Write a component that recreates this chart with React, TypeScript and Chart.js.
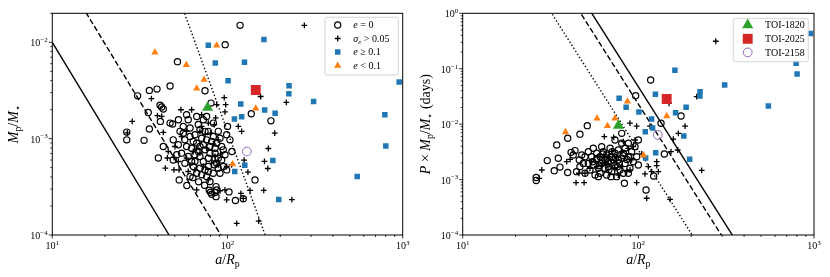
import React, { useEffect, useRef } from 'react';
import { Chart, registerables } from 'chart.js';

Chart.register(...registerables);

type Pt = [number, number];

// ---------- data: eccentric planets (e >= 0.1) ----------
const eccAR = [77.7, 161.5, 85.2, 125, 100.8, 224.5, 224, 310, 955, 119, 163, 187, 120.5, 109.5, 791, 801, 181.5, 125.5, 110, 550, 196];
const eccMass = [9.3e-3, 1.07e-2, 6.1e-3, 6.2e-3, 4.0e-3, 3.54e-3, 2.92e-3, 2.43e-3, 3.87e-3, 2.29e-3, 1.98e-3, 1.83e-3, 1.69e-3, 1.6e-3, 1.77e-3, 8.4e-4, 5.93e-4, 5.3e-4, 4.56e-4, 4.04e-4, 2.33e-4];
const eccPM = [0.0292, 0.0936, 0.0201, 0.0345, 0.0166, 0.0386, 0.0322, 0.0509, 0.43, 0.0124, 0.0161, 0.0201, 8.5e-3, 7.3e-3, 0.125, 0.08, 6.1e-3, 3.06e-3, 2.45e-3, 0.0213, 2.32e-3];

// ---------- data: low eccentricity (e < 0.1) ----------
const lowAR = [38.5, 86.7, 58.2, 73.5, 66.7, 145, 107];
const lowMass = [7.87e-3, 9.3e-3, 5.81e-3, 4.09e-3, 3.32e-3, 2.06e-3, 5.43e-4];
const lowPM = [7.2e-3, 0.0258, 0.0127, 0.0127, 9.27e-3, 0.014, 2.74e-3];

// ---------- data: the three TOIs ----------
const toiNames = ['TOI-1820', 'TOI-2025', 'TOI-2158'];
const toiAR = [77, 145, 129];
const toiMass = [2.1e-3, 3.2e-3, 7.35e-4];
const toiPM = [9.4e-3, 0.0284, 6.4e-3];

// ---------- data: e = 0 (left panel: a/Rp, Mp/M*) ----------
const leftCircles: Pt[] = [
  [118, 1.5e-2], [97, 9.45e-3], [51.8, 6.3e-3], [47.0, 3.52e-3], [35.8, 3.17e-3], [39.6, 3.27e-3], [74.4, 3.14e-3],
  [30.7, 2.78e-3], [80.5, 2.34e-3], [136.7, 1.81e-3], [177, 1.53e-3], [35.3, 1.87e-3], [41.2, 2.22e-3], [42.1, 2.13e-3],
  [43.0, 2.03e-3], [41.4, 1.51e-3], [47.0, 1.45e-3], [48.6, 1.42e-3], [52.5, 1.57e-3], [35.8, 1.26e-3], [26.6, 1.17e-3],
  [26.6, 9.72e-4], [33.4, 9.6e-4], [43.0, 8.29e-4], [51.3, 6.8e-4], [40.3, 6.3e-4], [49.0, 6.0e-4], [53.0, 3.73e-4],
  [58.6, 3.26e-4], [63.4, 3.94e-4], [68.4, 3.56e-4], [74.0, 3.28e-4], [78.7, 2.91e-4], [80.0, 2.78e-4], [84.8, 2.76e-4],
  [86.0, 3.18e-4], [86.0, 2.5e-4], [102, 2.8e-4], [111, 2.28e-4], [123, 2.38e-4], [143.5, 3.73e-4], [106, 7.36e-4],
  [100, 1.34e-3],
  [59.7, 1.57e-3], [53.6, 1.19e-3], [61.1, 1.29e-3], [68.1, 1.4e-3], [65.2, 1.1e-3], [57.1, 9.72e-4], [52.4, 8.63e-4],
  [62.4, 7.96e-4], [71.2, 1.01e-3], [76.0, 9.72e-4], [74.4, 7.65e-4], [81.2, 9.35e-4], [84.9, 7.07e-4], [94.6, 7.65e-4],
  [88.6, 1.19e-3], [98.9, 1.1e-3], [88.6, 6.27e-4], [69.6, 6.53e-4], [54.7, 7.07e-4], [77.7, 6.27e-4], [59.7, 6.53e-4],
  [55.9, 1.34e-3], [63.8, 9.35e-4], [77.7, 1.19e-3], [83.0, 1.45e-3], [65.2, 5.79e-4], [84.9, 6.27e-4], [92.6, 6.02e-4],
  [84.1, 5.35e-4], [77.7, 5.14e-4], [74.4, 4.74e-4], [69.6, 4.94e-4], [61.1, 4.04e-4], [79.4, 3.59e-4], [86.7, 2.94e-4],
  [81.2, 2.65e-4], [57.1, 5.56e-4], [62.4, 5.79e-4], [72.8, 1.57e-3], [76.0, 1.7e-3], [69.6, 1.235e-3], [66.7, 8.98e-4],
  [72.8, 8.63e-4], [79.4, 8.29e-4], [86.7, 8.98e-4], [90.6, 1.01e-3], [92.6, 8.29e-4], [83.0, 1.053e-3], [58.4, 8.29e-4],
  [68.1, 7.36e-4], [72.8, 5.79e-4], [88.6, 4.94e-4], [90.6, 4.38e-4], [83.0, 4.38e-4], [76.0, 4.04e-4], [71.2, 4.21e-4],
  [66.7, 4.38e-4], [63.8, 5.14e-4], [96.7, 6.8e-4], [103.3, 9.72e-4], [69.6, 8.29e-4], [61.1, 1.053e-3], [55.9, 1.14e-3],
  [58.4, 1.77e-3], [66.7, 1.7e-3], [74.4, 1.19e-3], [79.4, 7.07e-4], [84.9, 7.96e-4], [65.2, 6.8e-4], [77.7, 4.56e-4],
  [86.7, 5.56e-4], [94.6, 5.14e-4], [98.9, 4.74e-4], [49.0, 9.72e-4],
];

// ---------- data: sigma_e > 0.05 (left panel) ----------
const leftPluses: Pt[] = [
  [274.5, 1.5e-2], [154.5, 2.74e-3], [216.6, 2.38e-3], [186, 1.14e-3], [171, 7.9e-4], [169.8, 4.9e-4], [162.5, 5.8e-4],
  [124.4, 6.0e-4], [130.8, 4.5e-4], [134.4, 2.9e-4], [161, 2.9e-4], [233, 2.33e-4], [119.3, 2.71e-4], [98.9, 2.31e-4],
  [150.7, 1.39e-4], [112.9, 1.32e-4], [86.7, 2.25e-3], [95.8, 2.66e-3], [97.6, 2.25e-3], [85.6, 1.64e-3], [96.7, 1.9e-3],
  [115.2, 1.34e-3], [120.4, 1.19e-3], [54.2, 1.995e-3], [62.4, 1.995e-3], [71.2, 1.77e-3], [84.1, 1.4e-3], [36.8, 2.6e-3],
  [28.6, 1.51e-3], [39.8, 1.73e-3], [42.1, 1.7e-3], [43.0, 1.16e-3], [45.9, 7.36e-4], [45.4, 6.3e-4], [49.5, 6.4e-4],
  [44.2, 4.94e-4], [49.5, 4.74e-4], [52.4, 5.79e-4], [52.9, 4.74e-4], [61.1, 5.35e-4], [59.7, 4.56e-4], [65.2, 4.74e-4],
  [72.8, 5.14e-4], [88.6, 5.35e-4], [98.9, 5.14e-4], [105.6, 5.35e-4], [77.7, 3.73e-4], [66.7, 2.94e-4], [96.7, 2.94e-4],
  [123, 2.4e-4], [90.6, 2.88e-4], [26.8, 1.15e-3],
  [58.4, 1.19e-3], [69.6, 1.19e-3], [74.4, 1.1e-3], [80.1, 1.14e-3], [83.0, 8.8e-4], [88.6, 9.72e-4], [76.0, 7.96e-4],
  [69.6, 7.07e-4], [63.8, 7.36e-4], [84.9, 6.53e-4], [91.4, 6.94e-4], [58.4, 6.27e-4], [81.2, 5.56e-4], [71.2, 1.34e-3],
  [77.7, 1.45e-3], [66.7, 7.96e-4], [50.1, 8.29e-4], [54.7, 1.053e-3],
];

// ---------- data: e = 0 (right panel: a/Rp, P*Mp/M*) ----------
const rightCircles: Pt[] = [
  [117.5, 0.0626], [96.5, 0.0327], [175, 0.014], [134.6, 0.01035], [140.6, 2.9e-3], [122.2, 1.16e-3], [110.6, 6.49e-4],
  [51.2, 9.4e-3], [46.5, 6.6e-3], [39.6, 5.56e-3], [34.3, 4.2e-3], [30.3, 2.2e-3], [33.2, 1.45e-3], [39.6, 1.34e-3],
  [26.2, 1.09e-3], [26.2, 9.6e-4], [80.4, 6.83e-3], [87.7, 4.51e-3], [73.6, 5.18e-3], [100, 5.18e-3], [83.3, 8.56e-4],
  [41.4, 3.1e-3], [42.6, 2.78e-3], [43.6, 3.33e-3], [46.1, 2.26e-3], [48.6, 1.96e-3], [46.5, 1.71e-3], [49.7, 1.3e-3],
  [53.0, 1.49e-3], [55.4, 1.83e-3], [57.9, 2.26e-3], [54.2, 2.59e-3], [57.9, 2.98e-3], [44.5, 1.39e-3], [35.0, 2.42e-3],
  [35.8, 1.68e-3], [60.5, 2.59e-3], [63.2, 3.19e-3], [66.0, 2.78e-3], [61.8, 1.96e-3], [67.5, 2.1e-3], [70.5, 2.59e-3],
  [73.6, 2.98e-3], [76.9, 3.42e-3], [80.4, 2.42e-3], [84.0, 1.96e-3], [87.7, 2.59e-3], [91.6, 3.19e-3], [93.6, 2.1e-3],
  [73.6, 1.83e-3], [78.6, 1.49e-3], [70.5, 1.39e-3], [64.6, 1.6e-3], [59.2, 1.6e-3], [56.7, 1.21e-3], [66.0, 1.21e-3],
  [75.2, 1.13e-3], [82.2, 1.3e-3], [89.6, 1.6e-3], [95.7, 3.93e-3], [84.0, 3.67e-3], [69.0, 3.67e-3], [61.8, 3.93e-3],
  [51.9, 3.19e-3], [49.7, 2.59e-3], [67.5, 1.71e-3], [76.9, 2.26e-3], [87.7, 1.3e-3], [97.8, 2.59e-3], [60.5, 1.3e-3],
  [51.9, 1.96e-3], [47.6, 2.78e-3], [69.9, 1.13e-3], [59.2, 1.13e-3], [100, 1.83e-3], [82.2, 2.98e-3], [72.0, 2.26e-3],
  [64.6, 2.26e-3], [55.4, 3.67e-3], [80.4, 4.51e-3], [58, 2.4e-3], [62, 2.2e-3], [66, 2.45e-3], [70, 2.0e-3],
  [74, 2.5e-3], [78, 2.0e-3], [82, 2.7e-3], [86, 2.3e-3], [63, 2.9e-3], [71, 3.2e-3], [76, 1.7e-3], [68, 1.5e-3],
  [55, 2.1e-3], [90, 2.6e-3], [60, 1.8e-3],
];

// ---------- data: sigma_e > 0.05 (right panel) ----------
const rightPluses: Pt[] = [
  [276, 0.313], [215, 0.0313], [149.5, 0.0238], [184.4, 9.25e-3], [169, 6.83e-3], [158.2, 5.35e-3], [153.4, 3.19e-3],
  [167.5, 3.42e-3], [229.4, 1.46e-3], [111.6, 4.6e-4], [151.5, 4.4e-4], [127.2, 2.1e-3], [127.2, 1.78e-3], [130, 1.39e-3],
  [119.1, 1.39e-3], [89.6, 1.49e-3], [89.6, 0.0104], [97.8, 9.25e-3], [116.5, 9.25e-3],
  [39.1, 2.1e-3], [40.9, 2.32e-3], [45.9, 1.3e-3], [49.7, 1.3e-3], [44.2, 8.8e-4], [49.1, 8.8e-4], [28.2, 1.49e-3],
  [27.3, 1.05e-3], [64.0, 5.95e-3], [72.4, 5.78e-3], [82.2, 4.83e-3], [87.7, 3.67e-3], [93.6, 3.93e-3], [95.7, 5.18e-3],
  [67.5, 2.59e-3], [61.8, 1.83e-3], [73.6, 1.6e-3], [66.0, 1.96e-3], [80.4, 1.71e-3], [85.8, 1.39e-3], [91.6, 2.26e-3],
  [75.2, 2.59e-3], [70.5, 3.19e-3], [57.9, 1.71e-3], [54.2, 2.1e-3], [97.8, 8.8e-4], [109.1, 1.27e-3], [114, 1.71e-3],
  [104.5, 2.9e-3], [80.4, 3.19e-3], [60.5, 2.78e-3], [53.0, 1.6e-3], [76.9, 1.21e-3],
];

// ---------- reference lines ----------
const massSolid: Pt[] = [[10, 1e-2], [46.4, 1e-4]];
const massDashed: Pt[] = [[10, 0.0769], [100, 7.69e-5]];
const massDotted: Pt[] = [[50, 0.038], [200, 3.71e-5]];
const pmSolid: Pt[] = [[50, 1.51], [400, 4.61e-5]];
const pmDashed: Pt[] = [[40, 2.24], [350, 4.37e-5]];
const pmDotted: Pt[] = [[30, 1.402], [250, 3.49e-5]];

// ---------- ticks ----------
const xTickExps = [1, 2, 3];
const leftYTickExps = [-4, -3, -2];
const rightYTickExps = [-4, -3, -2, -1, 0];

// ---------- colours ----------
const BLUE = '#1f77b4';
const ORANGE = '#ff7f0e';
const GREEN = '#2ca02c';
const RED = '#d62728';
const PURPLE = '#9467bd';

const SERIF = '"Liberation Serif", "DejaVu Serif", serif';
const TITLE_SIZE = 14;
const TICK_SIZE = 10;
const LEGEND_SIZE = 10;

interface Seg { t: string; it?: boolean; sub?: boolean; sup?: boolean }

function fontOf(s: Seg, size: number) {
  const sz = s.sub || s.sup ? size * 0.7 : size;
  return `${s.it ? 'italic ' : ''}${sz}px ${SERIF}`;
}
function measureRich(ctx: CanvasRenderingContext2D, segs: Seg[], size: number) {
  let w = 0;
  for (const s of segs) { ctx.font = fontOf(s, size); w += ctx.measureText(s.t).width; }
  return w;
}
function drawRich(ctx: CanvasRenderingContext2D, segs: Seg[], x: number, y: number, size: number, align: 'left' | 'center' | 'right') {
  const w = measureRich(ctx, segs, size);
  let cx = align === 'left' ? x : align === 'center' ? x - w / 2 : x - w;
  ctx.textAlign = 'left';
  ctx.textBaseline = 'alphabetic';
  ctx.fillStyle = '#000';
  for (const s of segs) {
    ctx.font = fontOf(s, size);
    const dy = s.sub ? size * 0.22 : s.sup ? -size * 0.42 : 0;
    ctx.fillText(s.t, cx, y + dy);
    cx += ctx.measureText(s.t).width;
  }
}
function expLabel(k: number): Seg[] {
  return [{ t: '10' }, { t: k < 0 ? '\u2212' + -k : String(k), sup: true }];
}

type MK = 'circle' | 'cross' | 'rect' | 'triangle';
function drawMarker(ctx: CanvasRenderingContext2D, kind: MK, x: number, y: number, r: number, fill: string | null, stroke: string | null, lw: number) {
  ctx.beginPath();
  if (kind === 'circle') ctx.arc(x, y, r, 0, Math.PI * 2);
  else if (kind === 'rect') { const s = r * Math.SQRT1_2; ctx.rect(x - s, y - s, 2 * s, 2 * s); }
  else if (kind === 'triangle') {
    for (let i = 0; i < 3; i++) {
      const a = (i * 2 * Math.PI) / 3;
      const px = x + Math.sin(a) * r, py = y - Math.cos(a) * r;
      if (i === 0) ctx.moveTo(px, py); else ctx.lineTo(px, py);
    }
    ctx.closePath();
  } else { ctx.moveTo(x - r, y); ctx.lineTo(x + r, y); ctx.moveTo(x, y - r); ctx.lineTo(x, y + r); }
  if (fill) { ctx.fillStyle = fill; ctx.fill(); }
  if (stroke) { ctx.strokeStyle = stroke; ctx.lineWidth = lw; ctx.stroke(); }
}

interface LegendItem { kind: MK; r: number; fill: string | null; stroke: string | null; lw: number; label: Seg[] }
interface PanelSpec {
  id: string;
  yMin: number; yMax: number;
  yExps: number[];
  pad: { left: number; right: number; top: number; bottom: number };
  yTitle: Seg[]; yTitleX: number;
  legendBox: [number, number, number, number];
  legendMarkerX: number; legendTextX: number; legendRows: number[];
  legend: LegendItem[];
}

const pairs = (p: Pt[]) => p.map(([x, y]) => ({ x, y }));
const zip = (xs: number[], ys: number[]) => xs.map((x, i) => ({ x, y: ys[i] }));

function markerDs(label: string, data: any[], style: string, r: number, fill: string, stroke: string, lw: number) {
  return {
    label, data, showLine: false, clip: 0,
    pointStyle: style, pointRadius: r, pointHoverRadius: r,
    pointBackgroundColor: fill, backgroundColor: fill,
    pointBorderColor: stroke, borderColor: stroke,
    pointBorderWidth: lw, borderWidth: lw,
  };
}
function lineDs(label: string, data: any[], dash: number[]) {
  return {
    label, data, showLine: true, pointRadius: 0, pointHoverRadius: 0, clip: 0,
    borderColor: '#000', borderWidth: 1.4, borderDash: dash, fill: false, tension: 0,
  };
}

const CIRCLE_R = 3.1;
const PLUS_R = 2.9;
const SQUARE_R = 3.9;
const TRI_R = 4.2;

const leftSpec: PanelSpec = {
  id: 'left', yMin: 1e-4, yMax: 0.02, yExps: leftYTickExps,
  pad: { left: 52.3, right: 12.3, top: 13.3, bottom: 42 },
  yTitle: [{ t: 'M', it: true }, { t: 'p', sub: true }, { t: '/' }, { t: 'M', it: true }, { t: '\u22c6', sub: true }],
  yTitleX: 13,
  legendBox: [325, 17.3, 73.3, 57.7],
  legendMarkerX: 337.7, legendTextX: 353.3, legendRows: [25, 38.5, 52, 65.6],
  legend: [
    { kind: 'circle', r: CIRCLE_R, fill: null, stroke: '#000', lw: 1.2, label: [{ t: 'e', it: true }, { t: ' = 0' }] },
    { kind: 'cross', r: PLUS_R, fill: null, stroke: '#000', lw: 1.3, label: [{ t: '\u03c3', it: true }, { t: 'e', it: true, sub: true }, { t: ' > 0.05' }] },
    { kind: 'rect', r: SQUARE_R, fill: BLUE, stroke: null, lw: 0, label: [{ t: 'e', it: true }, { t: ' \u2265 0.1' }] },
    { kind: 'triangle', r: TRI_R, fill: ORANGE, stroke: null, lw: 0, label: [{ t: 'e', it: true }, { t: ' < 0.1' }] },
  ],
};

const rightSpec: PanelSpec = {
  id: 'right', yMin: 1e-4, yMax: 1, yExps: rightYTickExps,
  pad: { left: 47.7, right: 16, top: 13.3, bottom: 42 },
  yTitle: [{ t: 'P', it: true }, { t: ' \u00d7 ' }, { t: 'M', it: true }, { t: 'p', sub: true }, { t: '/' }, { t: 'M', it: true }, { t: '\u22c6', sub: true }, { t: ' (days)' }],
  yTitleX: 10.5,
  legendBox: [318.3, 18.3, 75, 43.4],
  legendMarkerX: 332.7, legendTextX: 350, legendRows: [25, 38.8, 52.4],
  legend: [
    { kind: 'triangle', r: 6.4, fill: GREEN, stroke: null, lw: 0, label: [{ t: toiNames[0] }] },
    { kind: 'rect', r: 7, fill: RED, stroke: null, lw: 0, label: [{ t: toiNames[1] }] },
    { kind: 'circle', r: 4.4, fill: null, stroke: PURPLE, lw: 1, label: [{ t: toiNames[2] }] },
  ],
};

function decorPlugin(spec: PanelSpec) {
  return {
    id: 'decor_' + spec.id,
    afterDatasetsDraw(chart: any) {
      const { ctx, chartArea: a, scales } = chart;
      const xs = scales.x, ys = scales.y;
      ctx.save();
      ctx.strokeStyle = '#000';
      ctx.lineWidth = 1;
      ctx.setLineDash([]);
      ctx.strokeRect(a.left, a.top, a.right - a.left, a.bottom - a.top);
      ctx.lineWidth = 0.8;
      ctx.beginPath();
      for (let k = 1; k <= 3; k++) {
        for (let m = 1; m <= 9; m++) {
          const v = m * Math.pow(10, k);
          if (v > 1000 * 1.0001) continue;
          const px = xs.getPixelForValue(v);
          const len = m === 1 ? 3.5 : 2;
          ctx.moveTo(px, a.bottom); ctx.lineTo(px, a.bottom + len);
        }
      }
      const kMin = Math.floor(Math.log10(spec.yMin)), kMax = Math.ceil(Math.log10(spec.yMax));
      for (let k = kMin; k <= kMax; k++) {
        for (let m = 1; m <= 9; m++) {
          const v = m * Math.pow(10, k);
          if (v < spec.yMin * 0.9999 || v > spec.yMax * 1.0001) continue;
          const py = ys.getPixelForValue(v);
          const len = m === 1 ? 3.5 : 2;
          ctx.moveTo(a.left, py); ctx.lineTo(a.left - len, py);
        }
      }
      ctx.stroke();
      for (const k of xTickExps) {
        const px = xs.getPixelForValue(Math.pow(10, k));
        drawRich(ctx, expLabel(k), px, a.bottom + 14, TICK_SIZE, 'center');
      }
      for (const k of spec.yExps) {
        const py = ys.getPixelForValue(Math.pow(10, k));
        drawRich(ctx, expLabel(k), a.left - 4.5, py + 4, TICK_SIZE, 'right');
      }
      drawRich(ctx, [{ t: 'a', it: true }, { t: '/' }, { t: 'R', it: true }, { t: 'p', sub: true }], (a.left + a.right) / 2, 264, TITLE_SIZE, 'center');
      ctx.save();
      ctx.translate(spec.yTitleX, (a.top + a.bottom) / 2);
      ctx.rotate(-Math.PI / 2);
      drawRich(ctx, spec.yTitle, 0, 4.5, TITLE_SIZE, 'center');
      ctx.restore();
      const [bx, by, bw, bh] = spec.legendBox;
      ctx.beginPath();
      (ctx as any).roundRect ? (ctx as any).roundRect(bx, by, bw, bh, 2) : ctx.rect(bx, by, bw, bh);
      ctx.fillStyle = 'rgba(255,255,255,0.85)';
      ctx.fill();
      ctx.strokeStyle = '#cccccc';
      ctx.lineWidth = 0.8;
      ctx.stroke();
      spec.legend.forEach((it, i) => {
        const ry = spec.legendRows[i];
        drawMarker(ctx, it.kind, spec.legendMarkerX, ry, it.r, it.fill, it.stroke, it.lw);
        drawRich(ctx, it.label, spec.legendTextX, ry + 3.4, LEGEND_SIZE, 'left');
      });
      ctx.restore();
    },
  };
}

function makeConfig(spec: PanelSpec): any {
  const isLeft = spec.id === 'left';
  const circles = isLeft ? leftCircles : rightCircles;
  const pluses = isLeft ? leftPluses : rightPluses;
  const eccY = isLeft ? eccMass : eccPM;
  const lowY = isLeft ? lowMass : lowPM;
  const toiY = isLeft ? toiMass : toiPM;
  const lines = isLeft ? [massSolid, massDashed, massDotted] : [pmSolid, pmDashed, pmDotted];
  const datasets: any[] = [
    markerDs(toiNames[2], [{ x: toiAR[2], y: toiY[2] }], 'circle', 4.4, 'rgba(0,0,0,0)', PURPLE, 1),
    markerDs(toiNames[1], [{ x: toiAR[1], y: toiY[1] }], 'rect', 7, RED, RED, 0),
    markerDs(toiNames[0], [{ x: toiAR[0], y: toiY[0] }], 'triangle', 6.4, GREEN, GREEN, 0),
    markerDs('e < 0.1', zip(lowAR, lowY), 'triangle', TRI_R, ORANGE, ORANGE, 0),
    markerDs('e >= 0.1', zip(eccAR, eccY), 'rect', SQUARE_R, BLUE, BLUE, 0),
    markerDs('sigma_e > 0.05', pairs(pluses), 'cross', PLUS_R, 'rgba(0,0,0,0)', '#000', 1.3),
    markerDs('e = 0', pairs(circles), 'circle', CIRCLE_R, 'rgba(0,0,0,0)', '#000', 1.2),
    lineDs('solid', pairs(lines[0]), []),
    lineDs('dashed', pairs(lines[1]), [5.5, 2.6]),
    lineDs('dotted', pairs(lines[2]), [1.4, 2.2]),
  ];
  return {
    type: 'scatter',
    data: { datasets },
    options: {
      animation: false,
      responsive: false,
      devicePixelRatio: 1,
      events: [],
      layout: { padding: spec.pad },
      scales: {
        x: { type: 'logarithmic', min: 10, max: 1000, display: false },
        y: { type: 'logarithmic', min: spec.yMin, max: spec.yMax, display: false },
      },
      plugins: { legend: { display: false }, tooltip: { enabled: false } },
    },
    plugins: [decorPlugin(spec)],
  };
}

export default function App() {
  const leftRef = useRef<HTMLCanvasElement>(null);
  const rightRef = useRef<HTMLCanvasElement>(null);
  useEffect(() => {
    const c1 = new Chart(leftRef.current as HTMLCanvasElement, makeConfig(leftSpec));
    const c2 = new Chart(rightRef.current as HTMLCanvasElement, makeConfig(rightSpec));
    return () => { c1.destroy(); c2.destroy(); };
  }, []);
  return (
    <div style={{ position: 'absolute', left: 0, top: 0, width: 830, height: 277, background: '#fff' }}>
      <canvas ref={leftRef} width={415} height={277} style={{ position: 'absolute', left: 0, top: 0, width: 415, height: 277 }} />
      <canvas ref={rightRef} width={415} height={277} style={{ position: 'absolute', left: 415, top: 0, width: 415, height: 277 }} />
    </div>
  );
}
